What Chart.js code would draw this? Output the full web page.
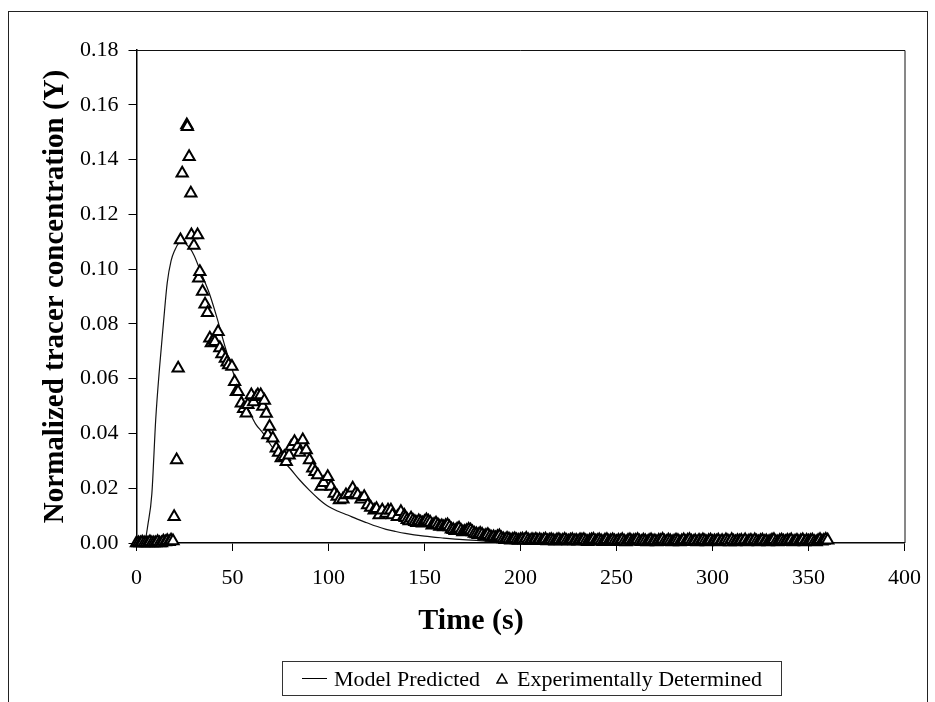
<!DOCTYPE html>
<html>
<head>
<meta charset="utf-8">
<script src="https://cdn.jsdelivr.net/npm/chart.js@4.4.1/dist/chart.umd.min.js"></script>
<style>
  body { margin: 0; background: #fff; }
  #wrap { position: relative; width: 935px; height: 702px; background: #fff; overflow: hidden; }
  #frame { position: absolute; left: 8px; top: 11px; width: 920px; height: 700px; border: 1px solid #222; box-sizing: border-box; }
  canvas { position: absolute; left: 0; top: 0; }
  #legend {
    position: absolute; left: 282px; top: 661px; width: 500px; height: 35px;
    border: 1px solid #333; box-sizing: border-box;
    display: flex; align-items: center; justify-content: center;
    font-family: "Liberation Serif", "Times New Roman", serif; font-size: 22px; color: #000;
  }
  #legend .ln { display: inline-block; width: 25px; border-top: 1.5px solid #000; margin-right: 7px; }
  #legend svg { margin: 0 9px 0 16px; }
</style>
</head>
<body>
<div id="wrap">
  <div id="frame"></div>
  <canvas id="tracerChart" width="935" height="702"></canvas>
  <div id="legend">
    <span class="ln"></span><span>Model Predicted</span>
    <svg width="12" height="11" viewBox="0 0 12 11"><polygon points="6,1 11,10 1,10" fill="none" stroke="#000" stroke-width="1.5"/></svg>
    <span>Experimentally Determined</span>
  </div>
</div>
<script>
// model curve
const modelTime = [0, 4, 6, 8, 10, 12, 14, 16, 18, 20,
  22, 24, 26, 28, 30, 34, 38, 42, 46, 50,
  54, 58, 62, 66, 70, 75, 80, 85, 90, 95,
  100, 105, 110, 115, 120, 125, 130, 135, 140, 150,
  160, 170, 180, 190, 200, 220, 250, 300, 360, 400];
const modelConc = [0, 0, 0.007, 0.018, 0.045, 0.064, 0.080, 0.095, 0.103, 0.107,
  0.1095, 0.110, 0.109, 0.1075, 0.105, 0.098, 0.091, 0.082, 0.072, 0.063,
  0.055, 0.049, 0.0435, 0.040, 0.0357, 0.031, 0.0272, 0.023, 0.0193, 0.016,
  0.0133, 0.0116, 0.0102, 0.0087, 0.0074, 0.0061, 0.0050, 0.0042, 0.0035, 0.0025,
  0.0018, 0.0012, 0.0008, 0.0005, 0.0003, 0.0001, 0, 0, 0, 0];

const baseTime = [0, 1, 2, 3, 4, 5, 6, 7, 8, 9, 10, 11, 12, 13, 14, 15, 16, 17, 18, 19];
const baseConc = [0, 0, 0, 0.0003, 0, 0, 0, 0.0004, 0, 0, 0, 0.0005, 0, 0, 0.0006, 0.0004, 0.0008, 0.0005, 0.0010, 0.0007];

const peakTime = [19.6, 20.9, 21.7, 22.9, 23.8, 26.2, 26.5, 27.4, 28.3, 28.6, 29.9, 31.8];
const peakConc = [0.0096, 0.0303, 0.0638, 0.1106, 0.1350, 0.1526, 0.1520, 0.1410, 0.1277, 0.1125, 0.1086, 0.1125];

const fallTime = [32.4, 33.0, 34.4, 35.7, 37.0, 38.2, 39.0, 40.2, 40.8, 42.5,
  43.4, 44.5, 46.3, 47.2, 48.0, 49.7, 51.1, 52.0, 52.9, 54.6,
  55.8, 57.2, 58.0, 59.8, 61.0, 62.4, 63.2, 64.7, 65.8, 66.6,
  67.6, 68.4, 69.3, 71.0, 72.8, 74.0, 75.4, 77.0, 78.0, 79.5];
const fallConc = [0.0967, 0.0990, 0.0918, 0.0872, 0.0841, 0.0748, 0.0730, 0.0740, 0.0735, 0.0771,
  0.0712, 0.0690, 0.0674, 0.0660, 0.0650, 0.0644, 0.0589, 0.0552, 0.0552, 0.0510,
  0.0490, 0.0474, 0.0505, 0.0540, 0.0515, 0.0534, 0.0540, 0.0540, 0.0498, 0.0520,
  0.0473, 0.0394, 0.0425, 0.0382, 0.0346, 0.0330, 0.0310, 0.0315, 0.0297, 0.0320];

const slowTime = [80.6, 82.3, 84.0, 85.0, 86.6, 88.4, 90.1, 91.8, 93.0, 94.4,
  96.2, 97.5, 99.6, 101.3, 103.0, 104.5, 105.7, 107.5, 109.1, 111.0,
  112.6, 114.0, 115.2, 117.0, 118.6, 120.4, 122.0, 123.8, 125.0, 126.4,
  128.0, 129.9, 131.0, 132.5, 133.3, 135.9, 137.7, 139.5];
const slowConc = [0.0352, 0.0370, 0.0352, 0.0330, 0.0376, 0.0340, 0.0303, 0.0273, 0.0260, 0.0248,
  0.0206, 0.0220, 0.0242, 0.0206, 0.0181, 0.0170, 0.0157, 0.0160, 0.0175, 0.0180,
  0.0200, 0.0180, 0.0175, 0.0160, 0.0169, 0.0139, 0.0130, 0.0120, 0.0125, 0.0102,
  0.0120, 0.0108, 0.0120, 0.0120, 0.0102, 0.0096, 0.0114, 0.0100];

const lateTime = [140, 141, 142, 143, 144, 145, 146, 147, 148, 149,
  150, 151, 152, 153, 154, 155, 156, 157, 158, 159,
  160, 161, 162, 163, 164, 165, 166, 167, 168, 169,
  170, 171, 172, 173, 174, 175, 176, 177, 178, 179,
  180, 181, 182, 183, 184, 185, 186, 187, 188, 189];
const lateConc = [0.0092, 0.0085, 0.0080, 0.0090, 0.0082, 0.0078, 0.0074, 0.0080, 0.0076, 0.0072,
  0.0078, 0.0084, 0.0079, 0.0075, 0.0065, 0.0068, 0.0072, 0.0066, 0.0060, 0.0062,
  0.0058, 0.0063, 0.0066, 0.0058, 0.0050, 0.0048, 0.0045, 0.0050, 0.0054, 0.0046,
  0.0040, 0.0042, 0.0045, 0.0049, 0.0047, 0.0040, 0.0035, 0.0033, 0.0030, 0.0035,
  0.0031, 0.0025, 0.0027, 0.0030, 0.0024, 0.0020, 0.0022, 0.0018, 0.0023, 0.0026];

const tailTime = [190, 191, 192, 193, 194, 195, 196, 197, 198, 199,
  200, 201, 202, 203, 204, 205, 206, 207, 208, 209,
  210, 211, 212, 213, 214, 215, 216, 217, 218, 219,
  220, 221, 222, 223, 224, 225, 226, 227, 228, 229,
  230, 231, 232, 233, 234, 235, 236, 237, 238, 239,
  240, 241, 242, 243, 244, 245, 246, 247, 248, 249,
  250, 251, 252, 253, 254, 255, 256, 257, 258, 259,
  260, 261, 262, 263, 264, 265, 266, 267, 268, 269,
  270, 271, 272, 273, 274, 275, 276, 277, 278, 279,
  280, 281, 282, 283, 284, 285, 286, 287, 288, 289,
  290, 291, 292, 293, 294, 295, 296, 297, 298, 299,
  300, 301, 302, 303, 304, 305, 306, 307, 308, 309,
  310, 311, 312, 313, 314, 315, 316, 317, 318, 319,
  320, 321, 322, 323, 324, 325, 326, 327, 328, 329,
  330, 331, 332, 333, 334, 335, 336, 337, 338, 339,
  340, 341, 342, 343, 344, 345, 346, 347, 348, 349,
  350, 351, 352, 353, 354, 355, 356, 357, 358, 359,
  360];
const tailConc = [0.0018, 0.0015, 0.0012, 0.0016, 0.0014, 0.0010, 0.0013, 0.0015, 0.0011, 0.0009,
  0.0012, 0.0014, 0.0010, 0.0016, 0.0011, 0.0008, 0.0012, 0.0010, 0.0013, 0.0009,
  0.0012, 0.0008, 0.0011, 0.0014, 0.0007, 0.0010, 0.0012, 0.0009, 0.0006, 0.0011,
  0.0012, 0.0007, 0.0009, 0.0013, 0.0008, 0.0006, 0.0010, 0.0012, 0.0007, 0.0009,
  0.0006, 0.0011, 0.0010, 0.0012, 0.0007, 0.0005, 0.0009, 0.0011, 0.0013, 0.0006,
  0.0008, 0.0011, 0.0007, 0.0005, 0.0010, 0.0012, 0.0006, 0.0008, 0.0011, 0.0007,
  0.0005, 0.0009, 0.0007, 0.0012, 0.0006, 0.0004, 0.0009, 0.0011, 0.0006, 0.0008,
  0.0009, 0.0012, 0.0006, 0.0005, 0.0010, 0.0007, 0.0004, 0.0008, 0.0011, 0.0006,
  0.0007, 0.0004, 0.0009, 0.0008, 0.0013, 0.0006, 0.0005, 0.0010, 0.0007, 0.0004,
  0.0006, 0.0010, 0.0008, 0.0004, 0.0007, 0.0011, 0.0005, 0.0009, 0.0012, 0.0006,
  0.0005, 0.0008, 0.0004, 0.0009, 0.0006, 0.0011, 0.0007, 0.0004, 0.0008, 0.0010,
  0.0005, 0.0007, 0.0006, 0.0010, 0.0004, 0.0008, 0.0005, 0.0011, 0.0007, 0.0004,
  0.0012, 0.0006, 0.0004, 0.0008, 0.0006, 0.0009, 0.0005, 0.0011, 0.0004, 0.0007,
  0.0009, 0.0005, 0.0011, 0.0006, 0.0004, 0.0008, 0.0010, 0.0005, 0.0007, 0.0004,
  0.0006, 0.0010, 0.0012, 0.0005, 0.0004, 0.0008, 0.0010, 0.0006, 0.0005, 0.0009,
  0.0007, 0.0011, 0.0004, 0.0006, 0.0009, 0.0005, 0.0008, 0.0011, 0.0004, 0.0009,
  0.0006, 0.0008, 0.0010, 0.0005, 0.0004, 0.0008, 0.0012, 0.0006, 0.0009, 0.0013,
  0.0010];

const xTicks = [0, 50, 100, 150, 200, 250, 300, 350, 400];
const xTitle = 'Time (s)';
const yTitle = 'Normalized tracer concentration (Y)';

const toPoints = (ts, vs) => ts.map((t, i) => ({ x: t, y: vs[i] }));
const expPoints = [].concat(
  toPoints(baseTime, baseConc),
  toPoints(peakTime, peakConc),
  toPoints(fallTime, fallConc),
  toPoints(slowTime, slowConc),
  toPoints(lateTime, lateConc),
  toPoints(tailTime, tailConc)
);

const serif = '"Liberation Serif", "Times New Roman", serif';
Chart.defaults.font.family = serif;
Chart.defaults.color = '#000';

// top/right border of the plot area and the x axis title (sits left of centre in the original)
const plotFrame = {
  id: 'plotFrame',
  afterDraw(chart) {
    const { ctx, chartArea: a } = chart;
    ctx.save();
    ctx.strokeStyle = '#111';
    ctx.lineWidth = 1;
    ctx.beginPath();
    ctx.moveTo(a.left, a.top + 0.5);
    ctx.lineTo(a.right + 0.5, a.top + 0.5);
    ctx.lineTo(a.right + 0.5, a.bottom);
    ctx.stroke();
    ctx.font = 'bold 30px ' + serif;
    ctx.fillStyle = '#000';
    ctx.textAlign = 'center';
    ctx.textBaseline = 'middle';
    ctx.fillText(xTitle, 471, 621);
    ctx.restore();
  }
};

const ctx = document.getElementById('tracerChart').getContext('2d');
new Chart(ctx, {
  type: 'scatter',
  data: {
    datasets: [{
      label: 'Model Predicted',
      data: toPoints(modelTime, modelConc),
      showLine: true,
      borderColor: '#111',
      borderWidth: 1.2,
      pointRadius: 0,
      cubicInterpolationMode: 'monotone',
      order: 2
    }, {
      label: 'Experimentally Determined',
      data: expPoints,
      showLine: false,
      pointStyle: 'triangle',
      pointRadius: 6.5,
      pointBorderWidth: 2,
      borderColor: '#000',
      backgroundColor: '#fff',
      clip: false,
      order: 1
    }]
  },
  options: {
    responsive: false,
    animation: false,
    devicePixelRatio: 1,
    layout: { padding: { left: 8, top: 50, right: 28, bottom: 60 } },
    plugins: {
      legend: { display: false },
      tooltip: { enabled: false }
    },
    scales: {
      x: {
        type: 'linear',
        min: 0,
        max: 400,
        afterBuildTicks: (axis) => { axis.ticks = xTicks.map(v => ({ value: v })); },
        afterFit: (axis) => { axis.height = 99; },
        ticks: { font: { size: 22 }, padding: 14, maxRotation: 0 },
        grid: { drawOnChartArea: false, drawTicks: true, tickLength: 8, color: '#000' },
        border: { display: true, color: '#000', width: 1.5 },
        title: { display: false }
      },
      y: {
        min: 0,
        max: 0.18,
        ticks: {
          stepSize: 0.02,
          font: { size: 22 },
          padding: 10,
          callback: (v) => v.toFixed(2)
        },
        afterFit: (axis) => { axis.width = 128.5; },
        grid: { drawOnChartArea: false, drawTicks: true, tickLength: 8, color: '#000' },
        border: { display: true, color: '#000', width: 1.5 },
        title: {
          display: true,
          text: yTitle,
          font: { size: 29, weight: 'bold' },
          padding: { top: 30, bottom: 0 }
        }
      }
    }
  },
  plugins: [plotFrame]
});
</script>
</body>
</html>
